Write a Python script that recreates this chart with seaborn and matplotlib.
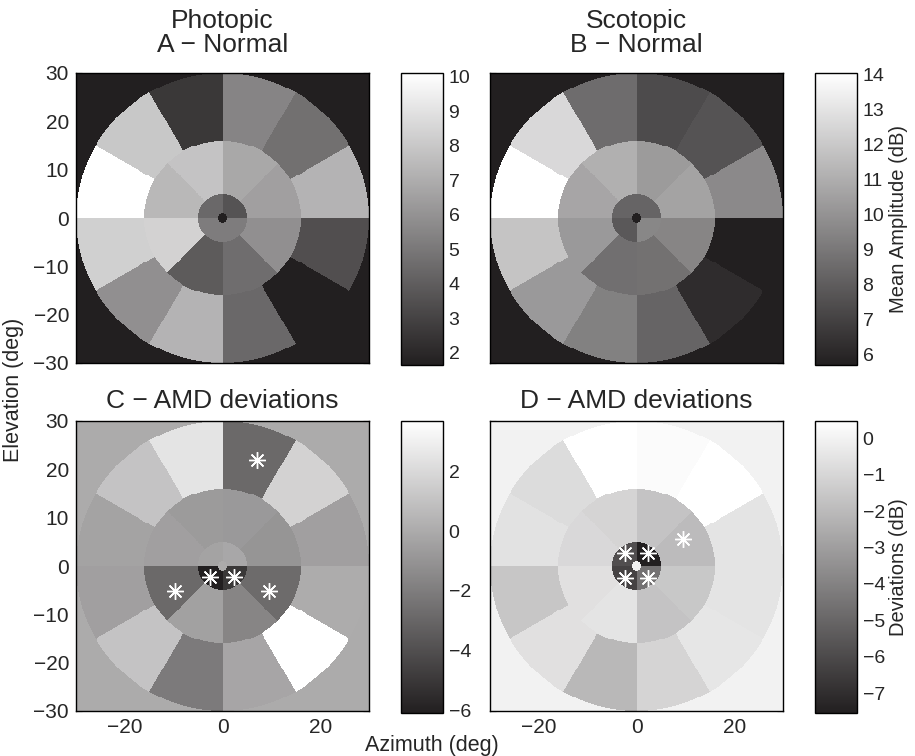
import numpy as np
import pandas as pd
import matplotlib
matplotlib.use("Agg")
import matplotlib.pyplot as plt
import seaborn as sns
from matplotlib.colors import LinearSegmentedColormap

# sector values (dB). centre: 4 quadrants, middle ring: 8 x 45 deg, outer ring: 12 x 30 deg
# angles counted anticlockwise starting at +azimuth
photopic_centre = [3.6, 4.4, 5.15, 5.15]
photopic_middle = [6.5, 6.8, 7.85, 7.4, 8.4, 3.9, 4.6, 5.9]
photopic_outer = [7.25, 4.7, 5.45, 2.6, 8.0, 10.1, 8.3, 5.9, 7.25, 4.4, 1.65, 3.45]

scotopic_centre = [8.3, 8.3, 7.85, 9.55]
scotopic_middle = [10.6, 10.3, 11.1, 10.7, 10.25, 8.7, 8.75, 9.5]
scotopic_outer = [9.65, 7.65, 7.35, 8.6, 12.6, 14.05, 11.85, 10.25, 9.35, 8.3, 6.2, 5.7]

photopic_dev_centre = [-0.14, -0.32, -6.1, -5.0]
photopic_dev_middle = [-0.94, -0.76, -0.67, -0.5, -2.88, -0.4, -1.65, -2.79]
photopic_dev_outer = [-0.5, 1.71, -2.88, 2.51, 1.09, -0.32, -0.5, 1.09, -2.09, -0.23, 3.7, 0.03]

scotopic_dev_centre = [-7.55, -5.85, -6.29, -4.55]
scotopic_dev_middle = [-1.95, -1.66, -1.08, -0.93, -0.64, -0.5, -1.66, -1.51]
scotopic_dev_outer = [-0.5, 0.48, 0.3, 0.48, -0.79, -0.57, -1.58, -0.64, -2.09, -1.08, -0.43, -0.5]

# significant deviations (asterisks)
photopic_sig_x = [7.1, -9.8, 9.6, -2.5, 2.4]
photopic_sig_y = [22.0, -5.2, -5.2, -2.3, -2.3]
scotopic_sig_x = [9.6, -2.4, 2.4, -2.4, 2.4]
scotopic_sig_y = [5.6, 2.7, 2.7, -2.4, -2.4]

cbar_ticks_a = [2, 3, 4, 5, 6, 7, 8, 9, 10]
cbar_ticks_b = [6, 7, 8, 9, 10, 11, 12, 13, 14]
cbar_ticks_c = [-6, -4, -2, 0, 2]
cbar_ticks_d = [-7, -6, -5, -4, -3, -2, -1, 0]

sns.set_style("white")
plt.rcParams['font.family'] = ['Liberation Sans', 'DejaVu Sans']

N = 300
coords = np.linspace(-30, 30, N, endpoint=False) + 30.0 / N
X, Y = np.meshgrid(coords, coords[::-1])
R = np.hypot(X, Y)
TH = np.degrees(np.arctan2(Y, X)) % 360


def field(centre, middle, outer):
    z = np.zeros_like(R)
    c = np.asarray(centre)[(TH // 90).astype(int) % 4]
    m = np.asarray(middle)[(TH // 45).astype(int) % 8]
    o = np.asarray(outer)[(TH // 30).astype(int) % 12]
    z = np.where((R >= 1) & (R < 5), c, z)
    z = np.where((R >= 5) & (R < 16), m, z)
    z = np.where((R >= 16) & (R <= 30), o, z)
    return pd.DataFrame(z)


def col(v):
    return (np.asarray(v) + 30) / 60.0 * N


def row(v):
    return (30 - np.asarray(v)) / 60.0 * N


def minus(v):
    return str(v).replace('-', '\u2212')


cmap = LinearSegmentedColormap.from_list('g', ['#221f20', '#ffffff'])

fig = plt.figure(figsize=(9.15, 7.56), dpi=100)
W, H = 915.0, 756.0

panels = [
    # left, top, data, vmin, vmax, ticks, title, title pad, xlabels, ylabels, stars, cbar label
    (76, 73, field(photopic_centre, photopic_middle, photopic_outer), 1.65, 10.1,
     cbar_ticks_a, 'Photopic\nA \u2212 Normal', 15, False, True, None, None),
    (490, 73, field(scotopic_centre, scotopic_middle, scotopic_outer), 5.7, 14.05,
     cbar_ticks_b, 'Scotopic\nB \u2212 Normal', 15, False, False, None, 'Mean Amplitude (dB)'),
    (76, 421, field(photopic_dev_centre, photopic_dev_middle, photopic_dev_outer), -6.1, 3.7,
     cbar_ticks_c, 'C \u2212 AMD deviations', 9, True, True, (photopic_sig_x, photopic_sig_y), None),
    (490, 421, field(scotopic_dev_centre, scotopic_dev_middle, scotopic_dev_outer), -7.55, 0.48,
     cbar_ticks_d, 'D \u2212 AMD deviations', 9, True, False, (scotopic_sig_x, scotopic_sig_y), 'Deviations (dB)'),
]

for left, top, data, vmin, vmax, ticks, title, tpad, xl, yl, stars, clabel in panels:
    ax = fig.add_axes([left / W, (H - top - 290) / H, 293 / W, 290 / H])
    cax = fig.add_axes([(left + 325) / W, (H - top - 292) / H, 42 / W, 292 / H])
    sns.heatmap(data, ax=ax, cmap=cmap, vmin=vmin, vmax=vmax, cbar_ax=cax,
                xticklabels=False, yticklabels=False, rasterized=True)
    if stars is not None:
        ax.plot(col(stars[0]), row(stars[1]), linestyle='none', marker=(8, 2, 0),
                color='white', ms=12, mew=1.0)
    ax.set_xlim(0, N)
    ax.set_ylim(N, 0)
    ax.set_xticks(col([-20, 0, 20]))
    ax.set_yticks(row([30, 20, 10, 0, -10, -20, -30]))
    ax.set_xticklabels([minus(v) for v in [-20, 0, 20]] if xl else [])
    ax.set_yticklabels([minus(v) for v in [30, 20, 10, 0, -10, -20, -30]] if yl else [])
    ax.tick_params(direction='in', length=4, width=0.8, top=True, right=True,
                   bottom=True, left=True, labelsize=15, pad=5, color='black')
    for sp in ax.spines.values():
        sp.set_visible(True)
        sp.set_color('black')
        sp.set_linewidth(1.0)
    ax.set_title(title, fontsize=19, pad=tpad, linespacing=1.0)

    cb = ax.collections[0].colorbar
    cb.outline.set_visible(True)
    cb.outline.set_linewidth(1.0)
    cb.outline.set_edgecolor('black')
    cb.set_ticks(ticks)
    cb.set_ticklabels([minus(v) for v in ticks])
    cax.tick_params(direction='in', length=4, width=0.8, left=True, right=True,
                    labelsize=14, pad=4, color='black')
    if clabel:
        cb.set_label(clabel, fontsize=14.5, labelpad=3)

fig.text(14 / W, 1 - 390 / H, 'Elevation (deg)', rotation=90, ha='center', va='center', fontsize=15.5)
fig.text(432 / W, 1 - 745 / H, 'Azimuth (deg)', ha='center', va='center', fontsize=15.5)

fig.savefig('out.png', dpi=100)
